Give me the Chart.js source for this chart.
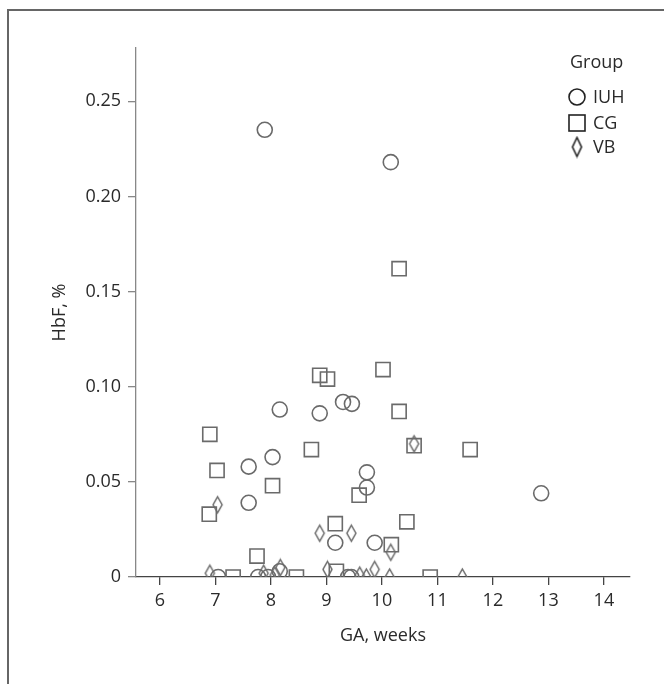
<!DOCTYPE html>
<html>
<head>
<meta charset="utf-8">
<script src="https://cdn.jsdelivr.net/npm/chart.js@4.4.1/dist/chart.umd.min.js"></script>
<style>
  html, body { margin: 0; padding: 0; background: #fff; }
  #wrap { position: relative; width: 664px; height: 684px; }
  #frame { position: absolute; left: 7px; top: 9px; right: 0; bottom: 0; border-left: 2px solid #666; border-top: 2px solid #666; }
  #chart { position: absolute; left: 0; top: 0; }
</style>
</head>
<body>
<div id="wrap">
  <div id="frame"></div>
  <canvas id="chart" width="664" height="684"></canvas>
</div>
<script>
// values (GA in weeks, HbF in %)
const groupNames = ['IUH', 'CG', 'VB'];

const iuhGA  = [7.89, 10.16, 8.16, 8.88, 9.30, 9.46, 7.60, 8.03, 9.73, 9.73, 7.60, 9.16, 9.87, 12.87, 7.05, 7.77, 7.95, 8.16, 9.39, 9.45];
const iuhHbF = [0.235, 0.218, 0.088, 0.086, 0.092, 0.091, 0.058, 0.063, 0.055, 0.047, 0.039, 0.018, 0.018, 0.044, 0, 0, 0, 0.003, 0, 0];

const cgGA  = [10.31, 8.88, 9.02, 10.02, 10.31, 6.90, 8.73, 10.58, 11.59, 7.03, 8.03, 6.89, 9.59, 10.45, 9.16, 10.17, 7.75, 9.18, 7.32, 8.46, 10.87];
const cgHbF = [0.162, 0.106, 0.104, 0.109, 0.087, 0.075, 0.067, 0.069, 0.067, 0.056, 0.048, 0.033, 0.043, 0.029, 0.028, 0.017, 0.011, 0.003, 0, 0, 0];

const vbGA  = [10.58, 7.04, 8.88, 9.45, 10.16, 6.90, 7.87, 8.07, 8.17, 9.02, 9.60, 9.72, 9.87, 10.14, 11.45];
const vbHbF = [0.070, 0.038, 0.023, 0.023, 0.013, 0.002, 0.002, 0.001, 0.005, 0.004, 0.001, 0, 0.004, 0, 0];

const xTicks = [6, 7, 8, 9, 10, 11, 12, 13, 14];
const yTicks = [0, 0.05, 0.10, 0.15, 0.20, 0.25];

const markColor = '#6a6a6a';
const fontFamily = '"Open Sans", "DejaVu Sans", sans-serif';
const fontSize = 18;

// narrow diamond used for VB
function makeDiamond(w, h, color, lw) {
    const c = document.createElement('canvas');
    c.width = w + 4;
    c.height = h + 4;
    const g = c.getContext('2d');
    g.strokeStyle = color;
    g.lineWidth = lw;
    g.beginPath();
    g.moveTo(c.width / 2, 2);
    g.lineTo(c.width - 2, c.height / 2);
    g.lineTo(c.width / 2, c.height - 2);
    g.lineTo(2, c.height / 2);
    g.closePath();
    g.stroke();
    return c;
}
const diamond = makeDiamond(9, 16, markColor, 1.5);
const legendDiamond = makeDiamond(9, 19, '#222', 1.6);

const toPoints = (xs, ys) => xs.map((x, i) => ({ x: x, y: ys[i] }));

const groupLegend = {
    id: 'groupLegend',
    afterDraw(chart) {
        const ctx = chart.ctx;
        const right = chart.chartArea.right;
        const top = chart.chartArea.top;
        ctx.save();
        ctx.font = fontSize + 'px ' + fontFamily;
        ctx.fillStyle = '#2a2a2a';
        ctx.textBaseline = 'middle';
        ctx.textAlign = 'left';
        ctx.fillText('Group', right - 60, top + 15);
        ctx.strokeStyle = '#222';
        ctx.lineWidth = 1.6;
        const sx = right - 53;
        const rows = [top + 49, top + 75, top + 99];
        // circle
        ctx.beginPath();
        ctx.arc(sx, rows[0], 8, 0, Math.PI * 2);
        ctx.stroke();
        // square
        ctx.strokeRect(sx - 8, rows[1] - 8, 16, 16);
        // diamond
        ctx.drawImage(legendDiamond, sx - legendDiamond.width / 2, rows[2] - legendDiamond.height / 2);
        groupNames.forEach((name, i) => ctx.fillText(name, sx + 16, rows[i] + 1));
        ctx.restore();
    }
};

new Chart(document.getElementById('chart'), {
    type: 'scatter',
    data: {
        datasets: [
            { label: groupNames[0], data: toPoints(iuhGA, iuhHbF), pointStyle: 'circle', pointRadius: 7.5, pointHoverRadius: 7.5,
              borderColor: markColor, backgroundColor: 'rgba(0,0,0,0)', borderWidth: 1.6 },
            { label: groupNames[1], data: toPoints(cgGA, cgHbF), pointStyle: 'rect', pointRadius: 10, pointHoverRadius: 10,
              borderColor: markColor, backgroundColor: 'rgba(0,0,0,0)', borderWidth: 1.6 },
            { label: groupNames[2], data: toPoints(vbGA, vbHbF), pointStyle: diamond, pointRadius: 8,
              borderColor: markColor, backgroundColor: 'rgba(0,0,0,0)', borderWidth: 1.6 }
        ]
    },
    options: {
        responsive: false,
        animation: false,
        layout: { padding: { left: 0, top: 48, right: 34, bottom: 0 } },
        plugins: { legend: { display: false }, tooltip: { enabled: false } },
        scales: {
            x: {
                type: 'linear',
                min: 5.57,
                max: 14.47,
                afterFit: (s) => { s.height = 107; },
                afterBuildTicks: (s) => { s.ticks = xTicks.map(v => ({ value: v })); },
                grid: { drawOnChartArea: false, drawTicks: true, tickLength: 8, color: '#444', lineWidth: 1.3 },
                border: { display: true, color: '#444', width: 1.3 },
                ticks: { color: '#2a2a2a', font: { family: fontFamily, size: fontSize }, padding: 5, maxRotation: 0 },
                title: { display: true, text: 'GA, weeks', color: '#2a2a2a', font: { family: fontFamily, size: fontSize }, padding: { bottom: 37 } }
            },
            y: {
                type: 'linear',
                min: 0,
                max: 0.278,
                afterFit: (s) => { s.width = 136; },
                afterBuildTicks: (s) => { s.ticks = yTicks.map(v => ({ value: v })); },
                grid: { drawOnChartArea: false, drawTicks: true, tickLength: 8, color: '#888', lineWidth: 1.3 },
                border: { display: true, color: '#888', width: 1.3 },
                ticks: { color: '#2a2a2a', font: { family: fontFamily, size: fontSize }, padding: 7,
                         callback: (v) => v === 0 ? '0' : v.toFixed(2) },
                title: { display: true, text: 'HbF, %', color: '#2a2a2a', font: { family: fontFamily, size: fontSize }, padding: { top: 49 } }
            }
        }
    },
    plugins: [groupLegend]
});
</script>
</body>
</html>
